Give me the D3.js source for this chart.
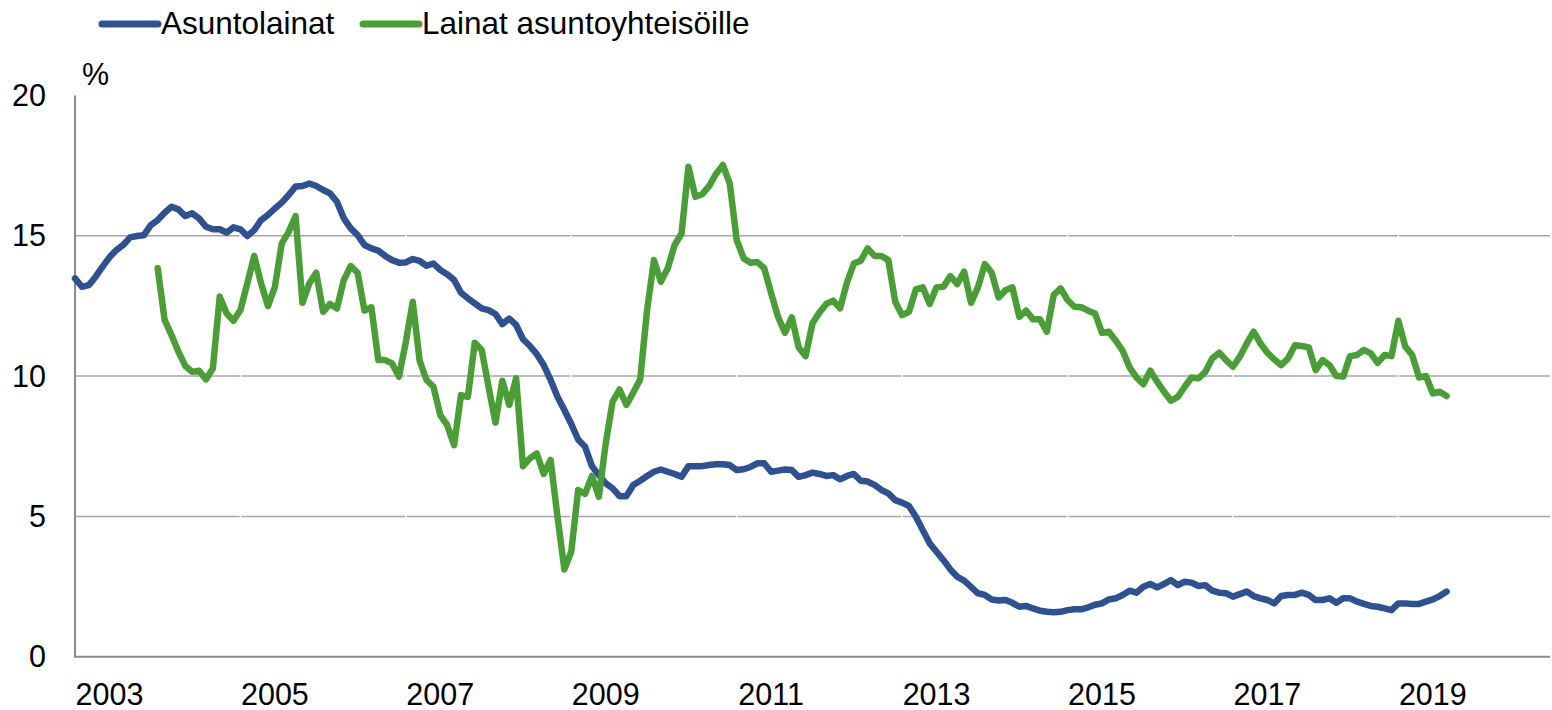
<!DOCTYPE html>
<html lang="fi">
  <head>
    <meta charset="UTF-8" />
    <title>Asuntolainat ja lainat asuntoyhteisöille</title>
    <style>
      body {
        margin: 0;
        background: #fff;
        font-family: "Liberation Sans", Arial, sans-serif;
      }
      .grid line {
        stroke: #a6a6a6;
        stroke-width: 1.5px;
      }
      .axis-line {
        stroke: #8c8c8c;
        stroke-width: 2px;
      }
      .label {
        font-size: 30.5px;
        fill: #000;
      }
      .line {
        fill: none;
        stroke-width: 6.5px;
        stroke-linejoin: round;
        stroke-linecap: round;
      }
    </style>
  </head>
  <body>
    <div class="svg-container"></div>
    <script src="https://d3js.org/d3.v7.min.js"></script>
    <script>
      // monthly series, first value = January 2003
      var startYear = 2003;
      var yearLabels = ["2003", "2005", "2007", "2009", "2011", "2013", "2015", "2017", "2019"];
      var yTicks = [0, 5, 10, 15, 20];
      var seriesNames = ["Asuntolainat", "Lainat asuntoyhteisöille"];
      var seriesColors = ["#2f5190", "#4a9d37"];

      var asuntolainat = [
        13.48, 13.18, 13.24, 13.54, 13.9, 14.23, 14.49, 14.67, 14.94, 14.99, 15.02, 15.38,
        15.56, 15.82, 16.03, 15.94, 15.7, 15.8, 15.62, 15.32, 15.23, 15.23, 15.11, 15.3,
        15.23, 14.99, 15.2, 15.56, 15.74, 15.97, 16.18, 16.45, 16.75, 16.77, 16.86, 16.77,
        16.63, 16.51, 16.21, 15.62, 15.26, 15.02, 14.67, 14.55, 14.47, 14.28, 14.13, 14.04,
        14.05, 14.17, 14.1, 13.93, 14.01, 13.78, 13.63, 13.42, 12.97, 12.77, 12.59, 12.41,
        12.35, 12.21, 11.85, 12.05, 11.82, 11.31, 11.07, 10.78, 10.39, 9.86, 9.26, 8.79,
        8.29, 7.74, 7.48, 6.79, 6.47, 6.18, 6.0, 5.72, 5.72, 6.12, 6.27, 6.44,
        6.59, 6.67, 6.59, 6.51, 6.41, 6.79, 6.79, 6.79, 6.83, 6.86, 6.86, 6.83,
        6.65, 6.68, 6.76, 6.89, 6.89, 6.59, 6.63, 6.67, 6.65, 6.41, 6.47, 6.56,
        6.51, 6.44, 6.47, 6.32, 6.44, 6.51, 6.27, 6.24, 6.12, 5.94, 5.82, 5.58,
        5.49, 5.37, 4.99, 4.51, 4.04, 3.74, 3.44, 3.11, 2.85, 2.71, 2.49, 2.26,
        2.2, 2.04, 2.0, 2.02, 1.92, 1.78, 1.81, 1.72, 1.64, 1.6, 1.58, 1.6,
        1.66, 1.69, 1.69, 1.76, 1.85, 1.9, 2.04, 2.08, 2.2, 2.35, 2.28, 2.49,
        2.59, 2.47, 2.59, 2.73, 2.55, 2.67, 2.64, 2.52, 2.55, 2.35, 2.28, 2.26,
        2.14, 2.23, 2.32, 2.16, 2.08, 2.02, 1.9, 2.16, 2.2, 2.2, 2.28, 2.2,
        2.02, 2.02, 2.08, 1.92, 2.08, 2.08, 1.96, 1.88, 1.81, 1.78, 1.72, 1.66,
        1.9, 1.9, 1.88, 1.88, 1.96, 2.04, 2.16, 2.32
      ];

      var asuntoyhteisot = [
        null, null, null, null, null, null, null, null, null, null, null, null,
        13.84, 12.0, 11.46, 10.87, 10.36, 10.15, 10.19, 9.88, 10.27, 12.83, 12.23, 11.97,
        12.35, 13.3, 14.28, 13.3, 12.49, 13.18, 14.73, 15.14, 15.7, 12.61, 13.3, 13.68,
        12.29, 12.57, 12.41, 13.42, 13.92, 13.68, 12.33, 12.45, 10.57, 10.57, 10.45, 9.98,
        11.22, 12.65, 10.55, 9.86, 9.62, 8.61, 8.25, 7.54, 9.32, 9.26, 11.19, 10.93,
        9.62, 8.34, 9.83, 8.97, 9.92, 6.79, 7.07, 7.24, 6.51, 7.01, 4.99, 3.11,
        3.74, 5.94, 5.8, 6.44, 5.7, 7.6, 9.09, 9.52, 8.97, 9.41, 9.88, 12.35,
        14.13, 13.36, 13.84, 14.67, 15.08, 17.46, 16.39, 16.48, 16.77, 17.2, 17.52, 16.86,
        14.85, 14.2, 14.04, 14.06, 13.84, 12.95, 12.11, 11.54, 12.09, 11.02, 10.71, 11.88,
        12.26, 12.57, 12.69, 12.41, 13.33, 14.01, 14.11, 14.55, 14.28, 14.28, 14.13, 12.65,
        12.17, 12.29, 13.09, 13.16, 12.57, 13.16, 13.18, 13.56, 13.28, 13.72, 12.61, 13.16,
        13.99, 13.68, 12.8, 13.06, 13.16, 12.11, 12.33, 12.02, 12.02, 11.58, 12.89, 13.12,
        12.71, 12.47, 12.45, 12.33, 12.23, 11.54, 11.58, 11.26, 10.9, 10.31, 9.95, 9.71,
        10.19, 9.8, 9.44, 9.12, 9.26, 9.62, 9.95, 9.92, 10.15, 10.63, 10.83, 10.57,
        10.33, 10.69, 11.16, 11.58, 11.16, 10.83, 10.59, 10.39, 10.63, 11.1, 11.07, 11.02,
        10.21, 10.57, 10.39, 10.0, 9.98, 10.71, 10.75, 10.93, 10.81, 10.47, 10.75, 10.71,
        11.97, 11.05, 10.75, 9.95, 10.0, 9.38, 9.44, 9.29
      ];

      var width = 1552,
        height = 710,
        margin = { top: 95.4, right: 2, bottom: 53.3, left: 75 };

      var svg = d3
        .select(".svg-container")
        .append("svg")
        .attr("width", width)
        .attr("height", height);

      // x = month index from January 2003
      var x = d3.scaleLinear().domain([0, 214]).range([margin.left, width - margin.right]);
      var y = d3.scaleLinear().domain([0, 20]).range([height - margin.bottom, margin.top]);

      // gridlines (no line at 0 or 20)
      svg
        .append("g")
        .attr("class", "grid")
        .selectAll("line")
        .data(yTicks.filter((d) => d > 0 && d < 20))
        .enter()
        .append("line")
        .attr("x1", x(0))
        .attr("x2", x(214))
        .attr("y1", (d) => y(d))
        .attr("y2", (d) => y(d));

      // white tick marks every two years cut the gridlines
      svg
        .append("g")
        .selectAll("line")
        .data(yearLabels.slice(1))
        .enter()
        .append("line")
        .attr("x1", (d) => x((+d - startYear) * 12))
        .attr("x2", (d) => x((+d - startYear) * 12))
        .attr("y1", y(20))
        .attr("y2", y(0) - 2)
        .attr("stroke", "#fff")
        .attr("stroke-width", 1.5);

      // axes
      svg
        .append("line")
        .attr("class", "axis-line")
        .attr("x1", x(0))
        .attr("x2", x(0))
        .attr("y1", y(20))
        .attr("y2", y(0));
      svg
        .append("line")
        .attr("class", "axis-line")
        .attr("x1", x(0) - 1)
        .attr("x2", x(214))
        .attr("y1", y(0))
        .attr("y2", y(0));

      // y labels
      svg
        .selectAll(".ylabel")
        .data(yTicks)
        .enter()
        .append("text")
        .attr("class", "label ylabel")
        .attr("x", 46)
        .attr("y", (d) => y(d) + 10.5)
        .attr("text-anchor", "end")
        .text((d) => d);

      svg.append("text").attr("class", "label").attr("x", 82).attr("y", 85).text("%");

      // x labels
      svg
        .selectAll(".xlabel")
        .data(yearLabels)
        .enter()
        .append("text")
        .attr("class", "label xlabel")
        .attr("x", (d) => x((+d - startYear) * 12 + 5))
        .attr("y", 705)
        .attr("text-anchor", "middle")
        .text((d) => d);

      var line = d3
        .line()
        .defined((d) => d != null)
        .x((d, i) => x(i))
        .y((d) => y(d));

      var series = [asuntolainat, asuntoyhteisot];

      svg
        .selectAll(".line")
        .data(series)
        .enter()
        .append("path")
        .attr("class", "line")
        .attr("d", (d) => line(d))
        .style("stroke", (d, i) => seriesColors[i]);

      // legend
      var legendX = [102, 363];
      var legend = svg
        .selectAll(".legend")
        .data(seriesNames)
        .enter()
        .append("g")
        .attr("class", "legend")
        .attr("transform", (d, i) => "translate(" + legendX[i] + ",24)");

      legend
        .append("line")
        .attr("x1", 0)
        .attr("x2", 56)
        .attr("y1", 0)
        .attr("y2", 0)
        .attr("stroke", (d, i) => seriesColors[i])
        .attr("stroke-width", 7)
        .attr("stroke-linecap", "round");

      legend
        .append("text")
        .attr("class", "label")
        .attr("x", 59)
        .attr("y", 10)
        .style("font-size", "31.5px")
        .text((d) => d);
    </script>
  </body>
</html>
